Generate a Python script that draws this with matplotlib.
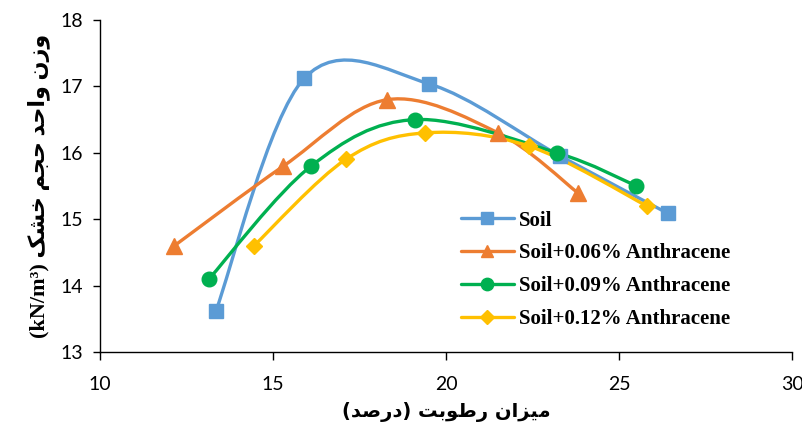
import matplotlib
matplotlib.use("Agg")
import matplotlib.pyplot as plt
from matplotlib.path import Path
from matplotlib.patches import PathPatch
from matplotlib.lines import Line2D
import numpy as np

# data
soil_x = [13.35, 15.9, 19.5, 23.3, 26.4]
soil_y = [13.62, 17.12, 17.04, 15.95, 15.09]
a06_x = [12.15, 15.3, 18.3, 21.5, 23.8]
a06_y = [14.6, 15.8, 16.8, 16.3, 15.4]
a09_x = [13.15, 16.1, 19.1, 23.2, 25.5]
a09_y = [14.1, 15.8, 16.5, 16.0, 15.5]
a12_x = [14.45, 17.1, 19.4, 22.4, 25.8]
a12_y = [14.6, 15.9, 16.3, 16.1, 15.2]

labels = ["Soil", "Soil+0.06% Anthracene", "Soil+0.09% Anthracene",
          "Soil+0.12% Anthracene"]
colors = ["#5B9BD5", "#ED7D31", "#00B050", "#FFC000"]
markers = ["s", "^", "o", "D"]
msizes = [10, 11, 10.5, 8.5]

x_ticks = [10, 15, 20, 25, 30]
y_ticks = [13, 14, 15, 16, 17, 18]

# minimal Persian shaping (matplotlib has no RTL/joining support)
FORMS = {
    'ا': ('\uFE8D', '\uFE8E', None, None),
    'ب': ('\uFE8F', '\uFE90', '\uFE91', '\uFE92'),
    'ت': ('\uFE95', '\uFE96', '\uFE97', '\uFE98'),
    'ج': ('\uFE9D', '\uFE9E', '\uFE9F', '\uFEA0'),
    'ح': ('\uFEA1', '\uFEA2', '\uFEA3', '\uFEA4'),
    'خ': ('\uFEA5', '\uFEA6', '\uFEA7', '\uFEA8'),
    'د': ('\uFEA9', '\uFEAA', None, None),
    'ر': ('\uFEAD', '\uFEAE', None, None),
    'ز': ('\uFEAF', '\uFEB0', None, None),
    'ش': ('\uFEB5', '\uFEB6', '\uFEB7', '\uFEB8'),
    'ص': ('\uFEB9', '\uFEBA', '\uFEBB', '\uFEBC'),
    'ط': ('\uFEC1', '\uFEC2', '\uFEC3', '\uFEC4'),
    'م': ('\uFEE1', '\uFEE2', '\uFEE3', '\uFEE4'),
    'ن': ('\uFEE5', '\uFEE6', '\uFEE7', '\uFEE8'),
    'و': ('\uFEED', '\uFEEE', None, None),
    'ک': ('\uFB8E', '\uFB8F', '\uFB90', '\uFB91'),
    'ی': ('\uFBFC', '\uFBFD', '\uFBFE', '\uFBFF'),
}
RIGHT_ONLY = set('ادذرزژو')


def fa(text):
    out = []
    for i, ch in enumerate(text):
        if ch not in FORMS:
            out.append(ch)
            continue
        prev = text[i - 1] if i > 0 else ''
        nxt = text[i + 1] if i + 1 < len(text) else ''
        jp = prev in FORMS and prev not in RIGHT_ONLY
        jn = nxt in FORMS and ch not in RIGHT_ONLY
        iso, fin, ini, med = FORMS[ch]
        if jp and jn:
            out.append(med)
        elif jp:
            out.append(fin)
        elif jn:
            out.append(ini)
        else:
            out.append(iso)
    s = ''.join(reversed(out))
    return s.translate(str.maketrans('()', ')('))


def smooth_path(xs, ys):
    # Excel-like smoothed line: cubic bezier, catmull-rom tangents
    p = np.column_stack([xs, ys]).astype(float)
    n = len(p)
    verts = [p[0]]
    codes = [Path.MOVETO]
    for i in range(n - 1):
        p0 = p[i - 1] if i > 0 else p[i]
        p3 = p[i + 2] if i + 2 < n else p[i + 1]
        c1 = p[i] + (p[i + 1] - p0) / 6.0
        c2 = p[i + 1] - (p3 - p[i]) / 6.0
        verts += [c1, c2, p[i + 1]]
        codes += [Path.CURVE4] * 3
    return Path(verts, codes)


fig = plt.figure(figsize=(8.03, 4.28), dpi=100)
ax = fig.add_axes([0.1245, 0.1776, 0.862, 0.7757])

series = [(soil_x, soil_y), (a06_x, a06_y), (a09_x, a09_y), (a12_x, a12_y)]
handles = []
for (xs, ys), c, m, ms, lab in zip(series, colors, markers, msizes, labels):
    ax.add_patch(PathPatch(smooth_path(xs, ys), fill=False, edgecolor=c,
                           lw=2.4, capstyle='round', joinstyle='round'))
    ax.plot(xs, ys, linestyle='none', marker=m, ms=ms, color=c, mec=c)
    handles.append(Line2D([], [], color=c, lw=2.4, marker=m, ms=ms * 0.85,
                          mec=c, solid_capstyle='round'))

ax.set_xlim(10, 30)
ax.set_ylim(13, 18)
ax.set_xticks(x_ticks)
ax.set_yticks(y_ticks)
for s in ['top', 'right']:
    ax.spines[s].set_visible(False)
for s in ['left', 'bottom']:
    ax.spines[s].set_linewidth(1.0)
ax.tick_params(axis='both', direction='out', width=1.0, labelsize=14)
ax.tick_params(axis='x', length=6, pad=11)
ax.tick_params(axis='y', length=5, pad=7)
for t in ax.get_xticklabels() + ax.get_yticklabels():
    t.set_family(['Lato', 'DejaVu Sans'])

ax.set_xlabel(fa("میزان رطوبت (درصد)"), fontsize=14, fontweight='bold',
              family=['DejaVu Sans'], labelpad=7)
ax.set_ylabel("(kN/m\u00b3) " + fa("وزن واحد حجم خشک"), fontsize=16,
              fontweight='bold', family=['Liberation Serif', 'DejaVu Sans'],
              labelpad=8)

fig.legend(handles=handles, labels=labels, loc='upper left',
           bbox_to_anchor=(0.574, 0.508), frameon=False, borderpad=0,
           borderaxespad=0, handlelength=2.55, handletextpad=0.24,
           labelspacing=0.62,
           prop={'family': 'Liberation Serif', 'weight': 'bold', 'size': 15})

fig.savefig("out.png", dpi=100)
